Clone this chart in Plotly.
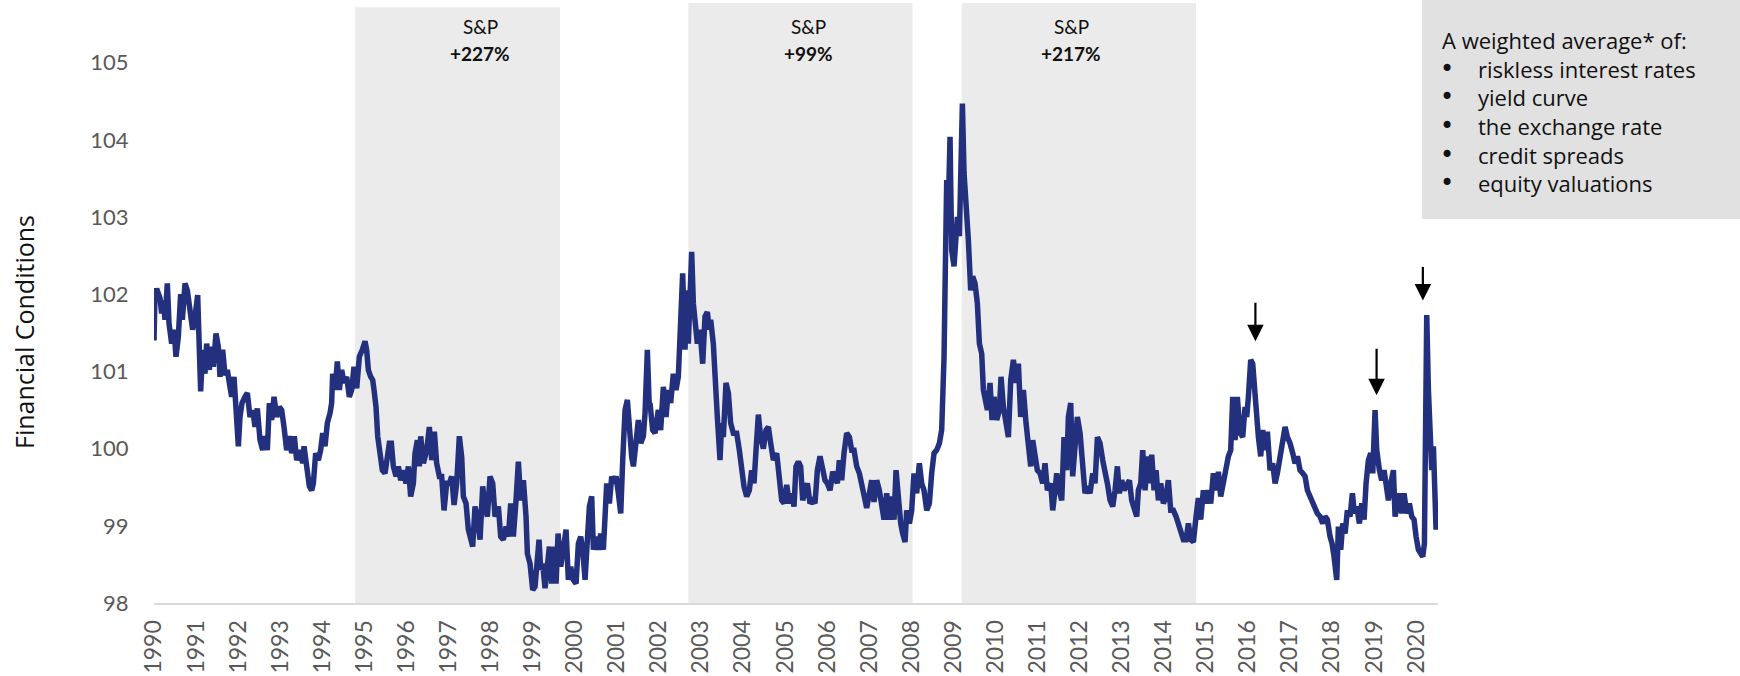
import plotly.graph_objects as go

# --- data (decimal year, index level) ---
years_a = [
    1990.000, 1990.024, 1990.063, 1990.143, 1990.182, 1990.222, 1990.261, 1990.317, 1990.357, 1990.420,
    1990.475, 1990.523, 1990.578, 1990.634, 1990.674, 1990.737, 1990.792, 1990.856, 1990.919, 1990.975,
    1991.038, 1991.078, 1991.109, 1991.157, 1991.212, 1991.252, 1991.315, 1991.355, 1991.410, 1991.474,
    1991.529, 1991.569, 1991.632, 1991.688, 1991.743, 1991.791, 1991.846, 1991.902, 1991.949, 1992.005,
    1992.044, 1992.092, 1992.163, 1992.219, 1992.282, 1992.346, 1992.401, 1992.456, 1992.520, 1992.583,
    1992.639, 1992.694, 1992.742, 1992.797, 1992.853, 1992.916, 1992.979, 1993.035, 1993.090, 1993.154,
    1993.217, 1993.273, 1993.336, 1993.391, 1993.471, 1993.534, 1993.566, 1993.629, 1993.693, 1993.748,
    1993.788, 1993.843, 1993.906, 1993.962, 1994.010, 1994.065, 1994.120, 1994.184, 1994.223, 1994.247,
    1994.303, 1994.358, 1994.406, 1994.461, 1994.517, 1994.580, 1994.643, 1994.699, 1994.754, 1994.818,
    1994.881, 1994.952, 1995.016, 1995.055, 1995.095, 1995.151, 1995.198, 1995.230, 1995.277, 1995.317,
    1995.372, 1995.428, 1995.491, 1995.547, 1995.594, 1995.642, 1995.689, 1995.753, 1995.808, 1995.864,
    1995.927, 1995.990, 1996.046, 1996.101, 1996.165, 1996.204, 1996.260, 1996.307, 1996.339, 1996.403,
    1996.482, 1996.545, 1996.601, 1996.664, 1996.719, 1996.783, 1996.838, 1996.894, 1996.957, 1997.021,
    1997.076, 1997.132, 1997.195, 1997.258, 1997.314, 1997.353, 1997.417, 1997.472, 1997.528, 1997.575,
    1997.631, 1997.686, 1997.750, 1997.813, 1997.868, 1997.924, 1997.987, 1998.051, 1998.106, 1998.185,
    1998.241, 1998.304, 1998.368, 1998.423, 1998.479, 1998.542, 1998.605, 1998.661, 1998.716, 1998.780,
    1998.843, 1998.875, 1998.938, 1999.002, 1999.057, 1999.113, 1999.152, 1999.192, 1999.239, 1999.295,
    1999.350, 1999.398, 1999.453, 1999.509, 1999.556, 1999.604, 1999.667, 1999.731, 1999.794, 1999.849,
    1999.905, 1999.968, 2000.032, 2000.087, 2000.143, 2000.190, 2000.246, 2000.301, 2000.349, 2000.404,
    2000.444, 2000.507, 2000.563, 2000.618, 2000.681, 2000.721, 2000.761, 2000.824, 2000.880, 2000.935,
    2000.983, 2001.038, 2001.094, 2001.141, 2001.197, 2001.252, 2001.300, 2001.355, 2001.395, 2001.458,
    2001.513, 2001.569, 2001.632, 2001.672, 2001.727, 2001.775,
]
fci_a = [
    101.40, 102.00, 102.07, 101.95, 101.75, 101.92, 101.67, 102.14, 101.62, 101.36,
    101.54, 101.19, 101.45, 102.00, 101.67, 102.14, 102.05, 101.71, 101.54, 101.71,
    101.99, 101.28, 100.74, 101.28, 100.97, 101.36, 101.02, 101.32, 101.06, 101.49,
    101.32, 100.93, 101.28, 100.95, 101.02, 100.85, 100.67, 100.93, 100.54, 100.03,
    100.41, 100.59, 100.67, 100.72, 100.41, 100.50, 100.28, 100.52, 100.11, 99.98,
    100.16, 99.98, 100.59, 100.37, 100.67, 100.41, 100.54, 100.50, 100.28, 99.98,
    100.16, 99.94, 100.16, 99.85, 99.98, 99.81, 100.03, 99.77, 99.51, 99.46,
    99.55, 99.94, 99.85, 99.98, 100.20, 100.03, 100.33, 100.46, 100.59, 100.97,
    100.76, 101.13, 100.76, 101.02, 100.85, 100.93, 100.67, 100.76, 101.06, 100.78,
    101.19, 101.28, 101.39, 101.28, 101.02, 100.93, 100.89, 100.76, 100.54, 100.16,
    99.98, 99.72, 99.68, 99.89, 100.07, 100.07, 99.77, 99.64, 99.77, 99.59,
    99.72, 99.55, 99.77, 99.38, 99.55, 99.94, 100.11, 99.77, 100.16, 99.81,
    99.98, 100.28, 99.85, 100.22, 99.81, 99.64, 99.64, 99.20, 99.55, 99.55,
    99.64, 99.27, 99.55, 100.16, 99.89, 99.38, 99.29, 98.95, 98.82, 98.73,
    99.25, 99.12, 98.82, 99.51, 99.25, 99.12, 99.64, 99.55, 99.12, 99.25,
    98.86, 98.82, 98.99, 98.86, 99.29, 98.86, 99.33, 99.83, 99.33, 99.59,
    99.12, 98.64, 98.51, 98.17, 98.21, 98.51, 98.82, 98.43, 98.51, 98.19,
    98.47, 98.73, 98.25, 98.73, 98.25, 98.90, 98.47, 98.69, 98.95, 98.30,
    98.47, 98.30, 98.25, 98.77, 98.86, 98.69, 98.30, 98.82, 99.25, 99.38,
    98.69, 98.86, 98.69, 98.90, 98.69, 99.12, 99.55, 99.29, 99.64, 99.55,
    99.64, 99.42, 99.16, 99.85, 100.50, 100.63, 100.16, 99.89, 99.77, 100.16,
    100.37, 100.07, 100.16, 100.46, 101.28, 100.50,
]

years_b = [
    2001.790, 2001.853, 2001.909, 2001.988, 2002.043, 2002.107, 2002.170, 2002.226, 2002.281, 2002.344,
    2002.408, 2002.463, 2002.503, 2002.566, 2002.622, 2002.661, 2002.701, 2002.741, 2002.780, 2002.820,
    2002.859, 2002.915, 2002.978, 2003.042, 2003.097, 2003.153, 2003.200, 2003.232, 2003.295, 2003.335,
    2003.390, 2003.454, 2003.493, 2003.533, 2003.596, 2003.652, 2003.707, 2003.771, 2003.850, 2003.913,
    2003.969, 2004.024, 2004.088, 2004.151, 2004.206, 2004.262, 2004.310, 2004.365, 2004.420, 2004.484,
    2004.547, 2004.603, 2004.658, 2004.722, 2004.801, 2004.864, 2004.920, 2004.975, 2005.039, 2005.102,
    2005.157, 2005.213, 2005.260, 2005.316, 2005.371, 2005.419, 2005.474, 2005.530, 2005.593, 2005.657,
    2005.712, 2005.768, 2005.831, 2005.894, 2005.950, 2006.005, 2006.069, 2006.132, 2006.187, 2006.243,
    2006.290, 2006.346, 2006.401, 2006.465, 2006.528, 2006.584, 2006.639, 2006.703, 2006.766, 2006.821,
    2006.877, 2006.940, 2007.004, 2007.059, 2007.115, 2007.178, 2007.241, 2007.297, 2007.352, 2007.416,
    2007.479, 2007.535, 2007.590, 2007.638, 2007.693, 2007.749, 2007.796, 2007.852, 2007.891, 2007.955,
    2008.010, 2008.065, 2008.129, 2008.192, 2008.248, 2008.303, 2008.367, 2008.430, 2008.485, 2008.541,
    2008.604, 2008.668, 2008.723, 2008.747, 2008.779, 2008.802, 2008.826, 2008.842, 2008.882, 2008.921,
    2008.961, 2009.016, 2009.064, 2009.096, 2009.143, 2009.175, 2009.215, 2009.254, 2009.302, 2009.357,
    2009.413, 2009.460, 2009.516, 2009.571, 2009.619, 2009.674, 2009.714, 2009.753, 2009.809, 2009.872,
    2009.920, 2009.967, 2010.031, 2010.094, 2010.134, 2010.189, 2010.253, 2010.308, 2010.364, 2010.427,
    2010.490, 2010.546, 2010.601, 2010.665, 2010.728, 2010.783, 2010.839, 2010.886, 2010.942, 2010.997,
    2011.061, 2011.124, 2011.179, 2011.235, 2011.314, 2011.362, 2011.417, 2011.457, 2011.520, 2011.576,
    2011.631, 2011.695, 2011.734, 2011.790, 2011.837, 2011.893, 2011.948, 2012.012, 2012.075, 2012.130,
    2012.186, 2012.249, 2012.313, 2012.368, 2012.424, 2012.487, 2012.550, 2012.606, 2012.661, 2012.725,
    2012.788, 2012.844, 2012.899, 2012.947, 2013.002, 2013.058, 2013.121, 2013.184, 2013.240, 2013.295,
    2013.359,
]
fci_b = [
    100.59, 100.24, 100.20, 100.50, 100.24, 100.80, 100.41, 100.76, 100.59, 100.97,
    100.76, 100.93, 101.41, 102.27, 101.28, 102.05, 101.36, 101.97, 102.55, 101.88,
    101.62, 101.36, 101.54, 101.10, 101.71, 101.77, 101.54, 101.67, 101.36, 100.76,
    100.41, 99.85, 100.33, 100.15, 100.85, 100.72, 100.33, 100.20, 100.20, 99.98,
    99.68, 99.51, 99.38, 99.46, 99.72, 99.55, 99.98, 100.44, 100.15, 100.00,
    100.24, 100.28, 100.07, 99.85, 99.94, 99.55, 99.33, 99.29, 99.53, 99.29,
    99.42, 99.25, 99.77, 99.83, 99.77, 99.33, 99.42, 99.55, 99.29, 99.33,
    99.29, 99.72, 99.90, 99.68, 99.59, 99.55, 99.46, 99.70, 99.64, 99.55,
    99.85, 99.59, 99.94, 100.20, 100.15, 99.98, 99.98, 99.77, 99.68, 99.55,
    99.42, 99.23, 99.42, 99.59, 99.31, 99.59, 99.46, 99.29, 99.08, 99.42,
    99.08, 99.38, 99.08, 99.72, 99.29, 99.03, 98.90, 98.79, 99.20, 99.03,
    99.20, 99.68, 99.42, 99.81, 99.55, 99.46, 99.20, 99.29, 99.68, 99.94,
    99.98, 100.07, 100.24, 100.59, 101.19, 102.05, 102.70, 103.48, 103.14, 104.04,
    102.57, 102.36, 102.75, 103.00, 102.75, 103.78, 104.47, 103.57, 103.22, 102.70,
    102.05, 102.23, 102.14, 101.88, 101.36, 101.23, 100.76, 100.67, 100.50, 100.85,
    100.37, 100.67, 100.37, 100.50, 100.93, 100.54, 100.33, 100.15, 100.89, 101.15,
    100.85, 101.10, 100.41, 100.76, 100.33, 99.94, 99.77, 100.11, 99.90, 99.72,
    99.68, 99.55, 99.81, 99.46, 99.55, 99.20, 99.46, 99.68, 99.46, 99.33,
    100.15, 99.72, 100.41, 100.59, 99.64, 100.07, 100.41, 100.20, 99.64, 99.42,
    99.51, 99.42, 99.68, 99.55, 100.15, 100.07, 99.85, 99.64, 99.55, 99.33,
    99.25, 99.46, 99.77, 99.42, 99.59, 99.46, 99.51, 99.59, 99.33, 99.25,
    99.12,
]

years_c = [
    2013.398, 2013.454, 2013.501, 2013.557, 2013.612, 2013.660, 2013.715, 2013.771, 2013.818, 2013.874,
    2013.929, 2013.992, 2014.056, 2014.111, 2014.167, 2014.230, 2014.294, 2014.349, 2014.404, 2014.468,
    2014.531, 2014.587, 2014.642, 2014.706, 2014.769, 2014.824, 2014.880, 2014.943, 2015.007, 2015.062,
    2015.118, 2015.181, 2015.244, 2015.300, 2015.355, 2015.419, 2015.482, 2015.538, 2015.593, 2015.641,
    2015.696, 2015.751, 2015.815, 2015.878, 2015.934, 2015.973, 2016.013, 2016.068, 2016.116, 2016.148,
    2016.195, 2016.251, 2016.306, 2016.354, 2016.409, 2016.465, 2016.528, 2016.591, 2016.647, 2016.702,
    2016.766, 2016.829, 2016.885, 2016.940, 2017.003, 2017.067, 2017.122, 2017.178, 2017.241, 2017.305,
    2017.360, 2017.416, 2017.479, 2017.542, 2017.598, 2017.653, 2017.717, 2017.780, 2017.835, 2017.891,
    2017.954, 2018.002, 2018.049, 2018.113, 2018.152, 2018.208, 2018.255, 2018.311, 2018.366, 2018.430,
    2018.485, 2018.533, 2018.588, 2018.652, 2018.707, 2018.763, 2018.810, 2018.866, 2018.921, 2018.969,
    2019.024, 2019.064, 2019.127, 2019.183, 2019.238, 2019.286, 2019.341, 2019.397, 2019.460, 2019.500,
    2019.555, 2019.603, 2019.658, 2019.713, 2019.777, 2019.840, 2019.896, 2019.951, 2019.999, 2020.054,
    2020.110, 2020.157, 2020.197, 2020.213, 2020.252, 2020.292, 2020.332, 2020.371, 2020.411, 2020.450,
    2020.474, 2020.500, 2020.515,
]
fci_c = [
    99.46, 99.55, 99.98, 99.46, 99.90, 99.55, 99.92, 99.46, 99.72, 99.33,
    99.55, 99.29, 99.38, 99.59, 99.20, 99.20, 99.12, 99.03, 98.95, 98.82,
    98.82, 99.03, 98.82, 98.79, 99.12, 99.36, 99.08, 99.46, 99.29, 99.46,
    99.29, 99.68, 99.46, 99.70, 99.38, 99.59, 99.81, 99.90, 99.98, 100.67,
    100.11, 100.67, 100.20, 100.15, 100.54, 100.41, 100.67, 101.15, 101.10, 100.76,
    100.54, 100.15, 99.90, 100.24, 99.98, 100.22, 99.72, 99.81, 99.55, 99.68,
    99.90, 100.11, 100.28, 100.15, 100.07, 99.94, 99.81, 99.90, 99.72, 99.68,
    99.64, 99.46, 99.38, 99.29, 99.20, 99.16, 99.12, 99.03, 99.12, 99.08,
    98.86, 98.77, 98.60, 98.30, 98.99, 98.69, 99.03, 98.90, 99.20, 99.12,
    99.42, 99.16, 99.25, 99.03, 99.29, 99.08, 99.55, 99.85, 99.94, 99.68,
    100.50, 99.98, 99.72, 99.59, 99.72, 99.46, 99.33, 99.55, 99.72, 99.12,
    99.29, 99.42, 99.16, 99.42, 99.16, 99.29, 99.12, 99.08, 98.86, 98.69,
    98.64, 98.60, 98.77, 100.41, 101.73, 100.76, 99.98, 99.72, 100.03, 99.46,
    98.95, 99.16, 99.29,
]

years = years_a + years_b + years_c
fci = fci_a + fci_b + fci_c

tick_years = list(range(1990, 2021))
y_ticks = [98, 99, 100, 101, 102, 103, 104, 105]

# S&P rallies (shaded) and their gains
rally_start = [1994.78, 2002.70, 2009.20]
rally_end = [1999.65, 2008.03, 2014.77]
rally_label_x = [1997.75, 2005.55, 2011.80]
rally_gain = ["+227%", "+99%", "+217%"]

# arrows: tip (year, level) and shaft length in px
arrow_x = [2016.18, 2019.06, 2020.16]
arrow_y = [101.39, 100.69, 101.92]
arrow_len = [40, 48, 35]

box_title = "A weighted average* of:"
box_items = ["riskless interest rates", "yield curve", "the exchange rate",
             "credit spreads", "equity valuations"]

FONT = "Lato"
BOX_FONT = "Open Sans"
W, H = 1740, 676
ML, MR, MT, MB = 154, 302, 3, 73
PW, PH = W - ML - MR, H - MT - MB
X0, X1 = 1990.0, 2020.52
Y0, Y1 = 98.0, 98.0 + PH / 77.2


def px_x(px):
    return (px - ML) / PW


def px_y(py):
    return (H - MB - py) / PH


fig = go.Figure()
fig.add_trace(go.Scatter(
    x=years, y=fci, mode="lines",
    line=dict(color="#22307d", width=5.5),
    hoverinfo="x+y", showlegend=False,
))

shapes = []
for i, (s, e) in enumerate(zip(rally_start, rally_end)):
    shapes.append(dict(type="rect", xref="x", yref="paper", x0=s, x1=e,
                       y0=0, y1=0.993 if i == 0 else 1.0,
                       fillcolor="#ebebeb", line=dict(width=0), layer="below"))
# description box, top right
shapes.append(dict(type="rect", xref="paper", yref="paper",
                   x0=px_x(1422), x1=px_x(1745), y0=px_y(219), y1=px_y(-5),
                   fillcolor="#e1e1e1", line=dict(width=0), layer="below"))

ann = []
for x, g in zip(rally_label_x, rally_gain):
    ann.append(dict(x=x, y=px_y(26), xref="x", yref="paper", text="S&P", showarrow=False,
                    font=dict(family=FONT, size=19, color="#111111"), yanchor="middle"))
    ann.append(dict(x=x, y=px_y(53), xref="x", yref="paper", text=f"<b>{g}</b>", showarrow=False,
                    font=dict(family=FONT, size=19, color="#111111"), yanchor="middle"))

for x, y, ln in zip(arrow_x, arrow_y, arrow_len):
    ann.append(dict(x=x, y=y, xref="x", yref="y", ax=0, ay=-ln, text="", showarrow=True,
                    arrowhead=2, arrowsize=1.5, arrowwidth=2.2, arrowcolor="#000000"))

ann.append(dict(x=px_x(1440), y=px_y(40), xref="paper", yref="paper", text=box_title,
                showarrow=False, xanchor="left", yanchor="middle",
                font=dict(family=BOX_FONT, size=22, color="#111111")))
for i, item in enumerate(box_items):
    yy = px_y(68.7 + i * 28.7)
    ann.append(dict(x=px_x(1447), y=yy, xref="paper", yref="paper", text="•",
                    showarrow=False, xanchor="center", yanchor="middle",
                    font=dict(family="DejaVu Sans", size=24, color="#111111")))
    ann.append(dict(x=px_x(1476), y=yy, xref="paper", yref="paper", text=item,
                    showarrow=False, xanchor="left", yanchor="middle",
                    font=dict(family=BOX_FONT, size=22, color="#111111")))

# y-axis title
ann.append(dict(x=px_x(24), y=px_y(332), xref="paper", yref="paper", text="Financial Conditions",
                textangle=-90, showarrow=False, xanchor="center", yanchor="middle",
                font=dict(family=BOX_FONT, size=25, color="#111111")))

fig.update_layout(
    width=W, height=H,
    margin=dict(l=ML, r=MR, t=MT, b=MB, pad=0),
    paper_bgcolor="white", plot_bgcolor="white",
    shapes=shapes, annotations=ann,
    showlegend=False,
    font=dict(family=FONT),
)
fig.update_xaxes(
    range=[X0, X1], tickmode="array", tickvals=tick_years, ticktext=[str(t) for t in tick_years],
    tickangle=-90, tickfont=dict(family=FONT, size=23, color="#595959"),
    showgrid=False, zeroline=False, showline=True, linecolor="#d9d9d9", linewidth=2,
    ticks="outside", ticklen=6, tickcolor="rgba(0,0,0,0)",
)
fig.update_yaxes(
    range=[Y0, Y1], tickmode="array", tickvals=y_ticks,
    tickfont=dict(family=FONT, size=22, color="#595959"),
    showgrid=False, zeroline=False, showline=False,
    ticks="outside", ticklen=20, tickcolor="rgba(0,0,0,0)",
)

# page body has a default 8px margin; remove it so the figure sits at the window corner
fig.write_html("out.html", config={"displayModeBar": False},
               post_script="document.body.style.margin='0';")
